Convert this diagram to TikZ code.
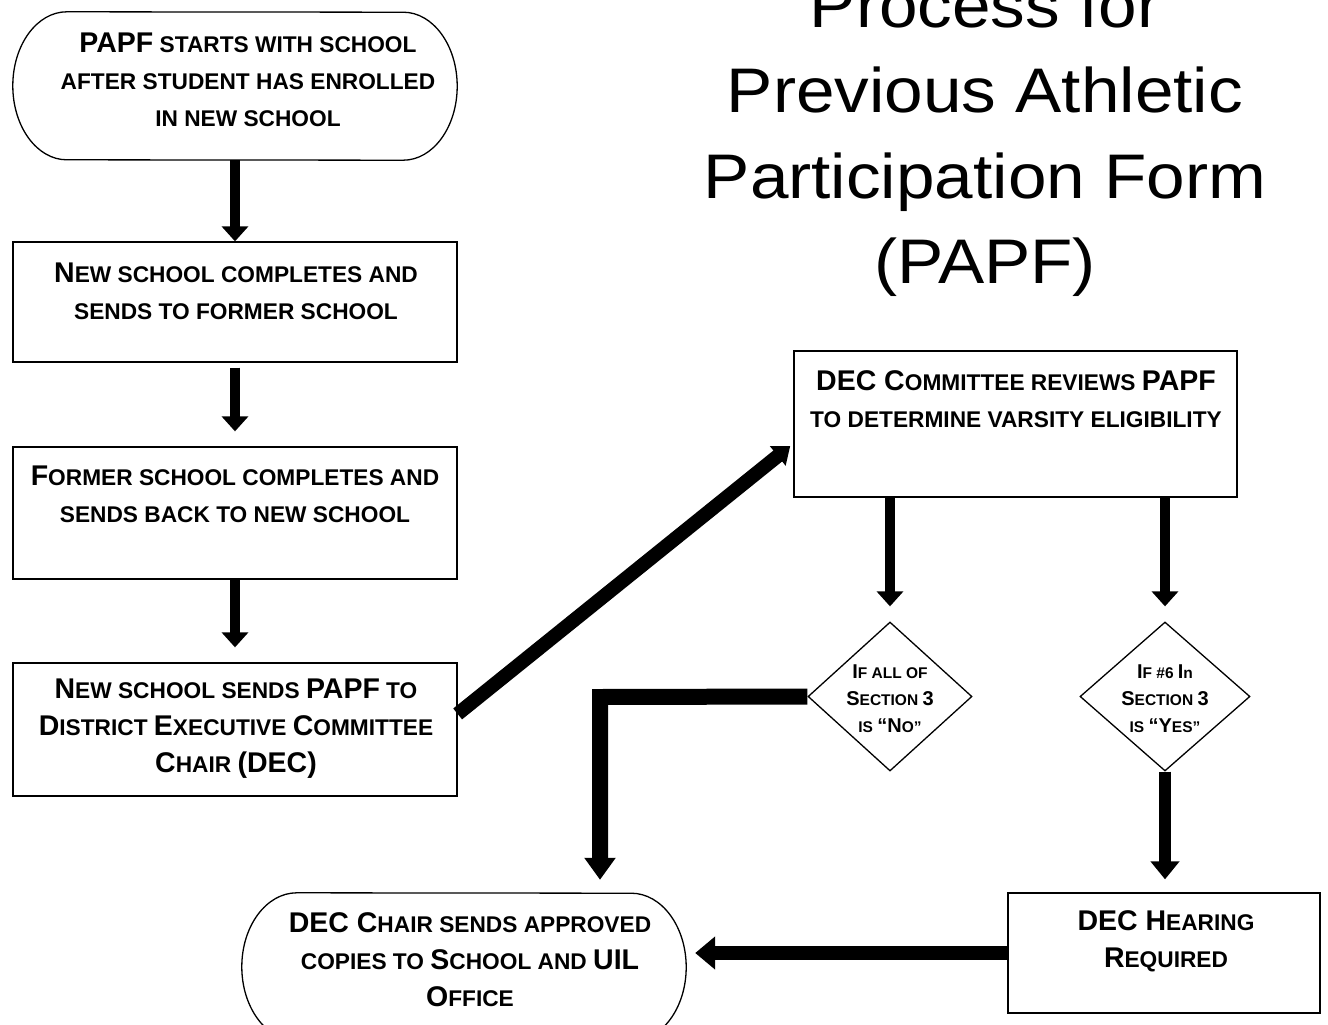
\documentclass[tikz,border=0pt]{standalone}
\usepackage{fontspec}
\setmainfont{Liberation Sans}
\newfontfamily\titlefont[FakeStretch=1.1]{Liberation Sans}
\usetikzlibrary{arrows.meta,shapes.geometric,calc}
\newcommand\Bg[1]{{\fontsize{28.5}{37}\selectfont #1}}
\newcommand\Bd[1]{{\fontsize{20}{27}\selectfont #1}}
\begin{document}
\begin{tikzpicture}[x=1pt,y=-1pt,
  outline/.style={draw=black,line width=1.3pt},
  box/.style={outline,rectangle,inner sep=0pt,minimum width=444pt},
  term/.style={inner sep=0pt,minimum width=444pt,minimum height=148pt},
  dia/.style={outline,diamond,inner sep=0pt,minimum width=164pt,minimum height=149pt},
  btxt/.style={font=\fontsize{22.7}{37}\selectfont\bfseries,align=center,inner sep=0pt},
  dtxt/.style={font=\fontsize{15.5}{27}\selectfont\bfseries,align=center,inner sep=0pt},
  arrA/.style={line width=10pt,-{Triangle[length=15pt,width=26pt]}},
  arrD/.style={line width=14pt,-{Triangle[length=16pt,width=24pt]}},
  arrE/.style={line width=16pt,line join=miter,-{Triangle[length=22pt,width=30pt]}},
  arrF/.style={line width=12pt,-{Triangle[length=18pt,width=28pt]}},
  arrG/.style={line width=14pt,-{Triangle[length=20pt,width=32pt]}}
]
\useasboundingbox (0,0) rectangle (1328,1025);
\fill[white] (0,0) rectangle (1328,1025);

% title
\node[font=\titlefont\fontsize{63}{85.5}\selectfont,align=center,inner sep=0pt] (title) at (985,139)
  {Process for\\Previous Athletic\\Participation Form\\(PAPF)};

% shapes
\node[term] (start) at (235,86) {};
\draw[outline] ([xshift=54pt]start.north west)
  arc[start angle=90,end angle=270,x radius=54pt,y radius=74pt]
  -- ([xshift=-54pt]start.south east)
  arc[start angle=-90,end angle=90,x radius=54pt,y radius=74pt] -- cycle;

\node[box,minimum height=120pt] (b2) at (235,302) {};
\node[box,minimum height=132pt] (b3) at (235,513) {};
\node[box,minimum height=133pt] (b4) at (235,729.5) {};
\node[box,minimum width=443pt,minimum height=146pt] (b5) at (1015.5,424) {};
\node[dia] (d1) at (890,696.5) {};
\node[dia,minimum width=170pt] (d2) at (1165,696.5) {};
\node[box,minimum width=312pt,minimum height=120pt] (b8) at (1164,953) {};

\node[term] (endt) at (464,967) {};
\draw[outline] ([xshift=55pt]endt.north west)
  arc[start angle=90,end angle=270,x radius=55pt,y radius=74pt]
  -- ([xshift=-55pt]endt.south east)
  arc[start angle=-90,end angle=90,x radius=55pt,y radius=74pt] -- cycle;

% texts
\node[btxt] (t1) at (248,80) {\Bg{PAPF} STARTS WITH SCHOOL\\AFTER STUDENT HAS ENROLLED\\IN NEW SCHOOL};
\node[btxt] (t2) at (236,291) {\Bg{N}EW SCHOOL COMPLETES AND\\SENDS TO FORMER SCHOOL};
\node[btxt] (t3) at (235,494) {\Bg{F}ORMER SCHOOL COMPLETES AND\\SENDS BACK TO NEW SCHOOL};
\node[btxt] (t4) at (236,729) {\Bg{N}EW SCHOOL SENDS \Bg{PAPF} TO\\\Bg{D}ISTRICT \Bg{E}XECUTIVE \Bg{C}OMMITTEE\\\Bg{C}HAIR \Bg{(DEC)}};
\node[btxt] (t5) at (1016,399) {\Bg{DEC C}OMMITTEE REVIEWS \Bg{PAPF}\\TO DETERMINE VARSITY ELIGIBILITY};
\node[dtxt] (t6) at (890,699) {\Bd{I}F ALL OF\\\Bd{S}ECTION \Bd{3}\\IS \Bd{“N}O”};
\node[dtxt] (t7) at (1165,699) {\Bd{I}F \#6 \Bd{I}n\\\Bd{S}ECTION \Bd{3}\\IS \Bd{“Y}ES”};
\node[btxt] (t8) at (470,960) {\Bg{DEC C}HAIR SENDS APPROVED\\COPIES TO \Bg{S}CHOOL AND \Bg{UIL}\\\Bg{O}FFICE};
\node[btxt] (t9) at (1166,941) {\Bg{DEC H}EARING\\\Bg{R}EQUIRED};

% connectors
\draw[arrA] (start) -- (b2);
\draw[arrA,shorten <=5pt,shorten >=15pt] (b2) -- (b3);
\draw[arrA,shorten >=15pt] (b3) -- (b4);
\draw[arrD,shorten >=4pt] (b4.4) -- (b5.185);
\draw[arrA,shorten >=15pt] (b5.south -| d1) -- (d1.north);
\draw[arrA,shorten >=15pt] (b5.south -| d2) -- (d2.north);
\coordinate (elbow) at (600,697);
\draw[arrE,shorten >=13pt] (d1.west) -- (elbow) -- (elbow |- endt.north);
\draw[arrF,shorten >=13pt] (d2.south) -- (d2.south |- b8.north);
\draw[arrG,shorten >=9pt] (b8.west) -- (b8.west -| endt.east);
\end{tikzpicture}
\end{document}
